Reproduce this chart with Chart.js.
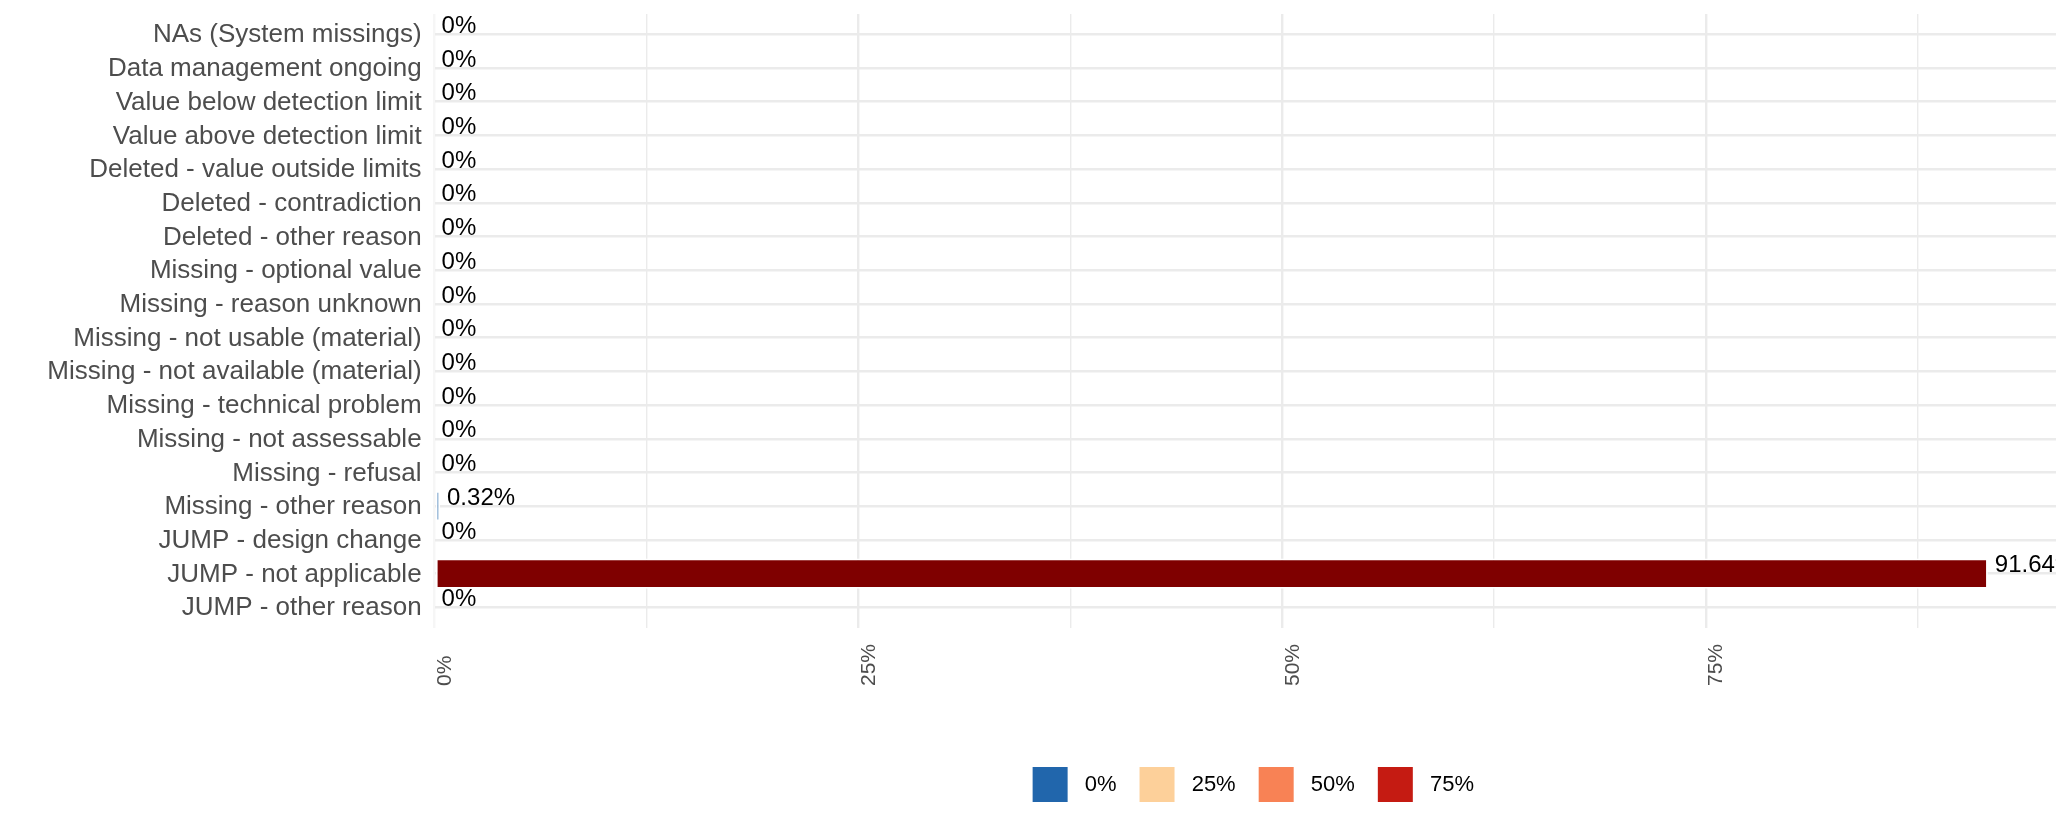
<!DOCTYPE html>
<html>
<head>
<meta charset="utf-8">
<script src="https://cdn.jsdelivr.net/npm/chart.js@4.4.1/dist/chart.umd.min.js"></script>
<style>
  html, body { margin: 0; padding: 0; background: #ffffff; }
  canvas { display: block; }
</style>
</head>
<body>
<canvas id="chartMissings" width="2070" height="835"></canvas>
<script>
// ── Datos ───────────────────────────────────────────────────────────────────
var categories = [
    'NAs (System missings)',
    'Data management ongoing',
    'Value below detection limit',
    'Value above detection limit',
    'Deleted - value outside limits',
    'Deleted - contradiction',
    'Deleted - other reason',
    'Missing - optional value',
    'Missing - reason unknown',
    'Missing - not usable (material)',
    'Missing - not available (material)',
    'Missing - technical problem',
    'Missing - not assessable',
    'Missing - refusal',
    'Missing - other reason',
    'JUMP - design change',
    'JUMP - not applicable',
    'JUMP - other reason'
];
var values       = [0, 0, 0, 0, 0, 0, 0, 0, 0, 0, 0, 0, 0, 0, 0.32, 0, 91.64, 0];
var xTickValues  = [0, 25, 50, 75];
var xTickLabels  = ['0%', '25%', '50%', '75%'];
var xGridValues  = [0, 12.5, 25, 37.5, 50, 62.5, 75, 87.5];
var legendLabels = ['0%', '25%', '50%', '75%'];
var legendColors = ['#2166AC', '#FDD09A', '#F88255', '#C51B12'];

var barColors = values.map(function (v) { return v > 50 ? '#7F0000' : '#2166AC'; });

var FONT = '"Liberation Sans", Arial, Helvetica, sans-serif';

// ── Etiquetas: ejes y valores ───────────────────────────────────────────────
var labelsPlugin = {
    id: 'labelsPlugin',
    beforeDraw: function (chart) {
        // nudge the legend row a bit to the right, like the original
        if (chart.legend && !chart.legend._nudged) {
            chart.legend.left += 8;
            chart.legend.right += 8;
            chart.legend._nudged = true;
        }
    },
    afterDatasetsDraw: function (chart) {
        var ctx = chart.ctx, xs = chart.scales.x, ys = chart.scales.y, area = chart.chartArea;

        // valores sobre cada barra (recortados al panel)
        ctx.save();
        ctx.beginPath();
        ctx.rect(area.left, 0, area.right - area.left, area.bottom);
        ctx.clip();
        ctx.font = '24px ' + FONT;
        ctx.fillStyle = '#000000';
        ctx.textAlign = 'left';
        ctx.textBaseline = 'alphabetic';
        values.forEach(function (v, i) {
            ctx.fillText(v + '%', xs.getPixelForValue(v) + 7, ys.getPixelForValue(i) - 1.3);
        });
        ctx.restore();

        // etiquetas del eje y
        ctx.save();
        ctx.font = '26px ' + FONT;
        ctx.fillStyle = '#4D4D4D';
        ctx.textAlign = 'right';
        ctx.textBaseline = 'middle';
        categories.forEach(function (c, i) {
            ctx.fillText(c, area.left - 13, ys.getPixelForValue(i) + 1);
        });
        ctx.restore();

        // etiquetas del eje x (verticales)
        ctx.save();
        ctx.font = '21px ' + FONT;
        ctx.fillStyle = '#4D4D4D';
        ctx.textAlign = 'left';
        ctx.textBaseline = 'alphabetic';
        xTickValues.forEach(function (v, i) {
            ctx.save();
            ctx.translate(xs.getPixelForValue(v) + 16.5, 686);
            ctx.rotate(-Math.PI / 2);
            ctx.fillText(xTickLabels[i], 0, 0);
            ctx.restore();
        });
        ctx.restore();
    }
};

// ── Gráfica ─────────────────────────────────────────────────────────────────
new Chart(document.getElementById('chartMissings'), {
    type: 'bar',
    data: {
        datasets: [{
            data: values.map(function (v, i) { return { x: v, y: i }; }),
            backgroundColor: barColors,
            borderColor: '#ffffff',
            borderWidth: 1.8,
            borderSkipped: false,
            categoryPercentage: 1,
            barPercentage: 0.9
        }]
    },
    options: {
        indexAxis: 'y',
        responsive: false,
        animation: false,
        devicePixelRatio: 1,
        layout: { padding: { left: 0, right: 14, top: 14, bottom: 23 } },
        plugins: {
            tooltip: { enabled: false },
            legend: {
                position: 'bottom',
                fullSize: false,
                onClick: null,
                labels: {
                    boxWidth: 35,
                    boxHeight: 35,
                    padding: 23,
                    color: '#1a1a1a',
                    font: { family: FONT, size: 22 },
                    generateLabels: function () {
                        // leading space widens the gap between key and text
                        return legendLabels.map(function (t, i) {
                            return { text: ' ' + t, fillStyle: legendColors[i], strokeStyle: legendColors[i], lineWidth: 0, hidden: false };
                        });
                    }
                }
            }
        },
        scales: {
            x: {
                type: 'linear',
                min: 0,
                max: 95.66,
                afterBuildTicks: function (axis) {
                    axis.ticks = xGridValues.map(function (v) { return { value: v }; });
                },
                afterFit: function (axis) { axis.height = 116.5; },
                ticks: { display: false },
                border: { display: false },
                grid: {
                    drawTicks: false,
                    offset: false,
                    color: function (c) { return c.tick && c.tick.value === 0 ? '#F6F6F6' : '#EBEBEB'; },
                    lineWidth: function (c) { return c.tick && c.tick.value % 25 === 0 ? 2.4 : 1.4; }
                }
            },
            y: {
                type: 'linear',
                reverse: true,
                offset: false,
                min: -0.6,
                max: 17.6,
                afterBuildTicks: function (axis) {
                    axis.ticks = categories.map(function (c, i) { return { value: i }; });
                },
                afterFit: function (axis) { axis.width = 434.6; },
                ticks: { display: false },
                border: { display: false },
                grid: { drawTicks: false, offset: false, color: '#EBEBEB', lineWidth: 2.4 }
            }
        }
    },
    plugins: [labelsPlugin]
});
</script>
</body>
</html>
